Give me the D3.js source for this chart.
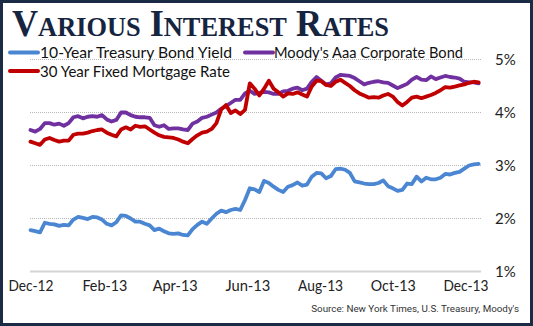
<!DOCTYPE html>
<html>
<head>
<meta charset="utf-8">
<script src="https://cdn.jsdelivr.net/npm/d3@7"></script>
<style>
  html, body { margin: 0; padding: 0; background: #fff; }
  svg { display: block; }
</style>
</head>
<body>
<svg id="chart" width="533" height="326"></svg>
<script>
// Observation dates: every 4 days starting 1 Dec 2012
const startDate = "2012-12-01";
const stepDays = 4;

// 10-Year Treasury Bond Yield (%)
const treasury10y = [
  1.78, 1.76, 1.74, 1.92, 1.90, 1.89, 1.86, 1.88, 1.87, 1.98,
  2.03, 2.01, 1.99, 2.03, 2.02, 1.98, 1.90, 1.87, 1.93, 2.06,
  2.05, 2.00, 1.94, 1.94, 1.90, 1.87, 1.78, 1.81, 1.76, 1.72,
  1.71, 1.72, 1.69, 1.68, 1.80, 1.88, 1.94, 1.90, 2.00, 2.09,
  2.15, 2.12, 2.16, 2.18, 2.16, 2.35, 2.57, 2.55, 2.50, 2.71,
  2.67, 2.60, 2.54, 2.50, 2.60, 2.63, 2.68, 2.62, 2.64, 2.79,
  2.86, 2.85, 2.76, 2.80, 2.93, 2.94, 2.92, 2.86, 2.70, 2.68,
  2.66, 2.65, 2.65, 2.67, 2.72, 2.61, 2.57, 2.52, 2.54, 2.66,
  2.65, 2.79, 2.70, 2.77, 2.74, 2.74, 2.77, 2.84, 2.83, 2.86,
  2.88, 2.94, 3.00, 3.02, 3.03
];

// Moody's Aaa Corporate Bond (%)
const moodysAaa = [
  3.67, 3.64, 3.69, 3.80, 3.80, 3.77, 3.79, 3.75, 3.80, 3.91,
  3.93, 3.89, 3.92, 3.93, 3.92, 3.95, 3.87, 3.83, 3.86, 4.00,
  4.00, 3.95, 3.92, 3.91, 3.91, 3.90, 3.76, 3.73, 3.76, 3.69,
  3.70, 3.70, 3.68, 3.67, 3.79, 3.83, 3.90, 3.92, 3.96, 4.00,
  4.07, 4.12, 4.18, 4.24, 4.24, 4.36, 4.41, 4.35, 4.37, 4.39,
  4.38, 4.35, 4.35, 4.40, 4.41, 4.45, 4.47, 4.42, 4.45, 4.58,
  4.67, 4.60, 4.53, 4.55, 4.66, 4.71, 4.70, 4.69, 4.65, 4.59,
  4.53, 4.56, 4.58, 4.59, 4.57, 4.56, 4.51, 4.46, 4.50, 4.54,
  4.62, 4.67, 4.62, 4.61, 4.68, 4.63, 4.66, 4.69, 4.67, 4.66,
  4.64, 4.58, 4.57, 4.57, 4.55
];

// 30 Year Fixed Mortgage Rate (%)
const mortgage30y = [
  3.45, 3.42, 3.39, 3.49, 3.52, 3.48, 3.45, 3.47, 3.47, 3.58,
  3.60, 3.60, 3.62, 3.65, 3.67, 3.68, 3.62, 3.58, 3.55, 3.68,
  3.72, 3.68, 3.75, 3.73, 3.74, 3.68, 3.62, 3.57, 3.54, 3.53,
  3.52, 3.49, 3.45, 3.42, 3.50, 3.57, 3.62, 3.64, 3.69, 3.80,
  4.06, 4.14, 3.99, 4.04, 3.97, 4.05, 4.55, 4.45, 4.32, 4.45,
  4.60, 4.45, 4.38, 4.30, 4.36, 4.35, 4.38, 4.34, 4.30, 4.49,
  4.60, 4.59, 4.52, 4.50, 4.58, 4.62, 4.56, 4.50, 4.42, 4.36,
  4.32, 4.28, 4.29, 4.28, 4.32, 4.35, 4.30, 4.20, 4.13, 4.20,
  4.28, 4.30, 4.27, 4.30, 4.33, 4.37, 4.42, 4.48, 4.47, 4.49,
  4.51, 4.53, 4.56, 4.58, 4.57
];

// Axis ticks
const xTickDates = ["2012-12-01", "2013-02-01", "2013-04-01", "2013-06-01", "2013-08-01", "2013-10-01", "2013-12-01"];
const xTickLabels = ["Dec-12", "Feb-13", "Apr-13", "Jun-13", "Aug-13", "Oct-13", "Dec-13"];
const yTicks = [1, 2, 3, 4, 5];
const yTickLabels = ["1%", "2%", "3%", "4%", "5%"];

const seriesNames = ["10-Year Treasury Bond Yield", "Moody's Aaa Corporate Bond", "30 Year Fixed Mortgage Rate"];
const seriesColors = ["#4a86d2", "#7030a0", "#c00000"];

const parse = d3.utcParse("%Y-%m-%d");
const start = parse(startDate);
const dates = treasury10y.map((_, i) => d3.utcDay.offset(start, i * stepDays));

const svg = d3.select("#chart");
const W = 533, H = 326;

// Frame
svg.append("rect").attr("x", 0).attr("y", 0).attr("width", W).attr("height", H).attr("fill", "#fff");
svg.append("rect").attr("x", 1.5).attr("y", 1.5).attr("width", W - 3).attr("height", H - 3)
  .attr("fill", "none").attr("stroke", "#1c2b45").attr("stroke-width", 3);

// Scales
const x = d3.scaleUtc().domain([parse("2012-12-01"), parse("2013-12-01")]).range([30.5, 465.5]);
const y = d3.scaleLinear().domain([1, 5]).range([271.5, 59.5]);
const plotLeft = 30, plotRight = 481;

// Gridlines
const grid = svg.append("g");
grid.selectAll("line").data(yTicks).join("line")
  .attr("x1", plotLeft).attr("x2", plotRight)
  .attr("y1", d => y(d)).attr("y2", d => y(d))
  .attr("stroke", d => d === 1 ? "#d4d4d4" : "#b8b8b8")
  .attr("stroke-width", d => d === 1 ? 2 : 1)
  .attr("stroke-dasharray", d => d === 1 ? null : "1,1");

// Y axis labels on the right
const yAxis = d3.axisRight(y).tickValues(yTicks).tickSize(0).tickPadding(0)
  .tickFormat((d, i) => yTickLabels[i]);
const gy = svg.append("g").attr("transform", "translate(495,0)").call(yAxis);
gy.select(".domain").remove();
gy.selectAll("text").attr("font-family", "Lato, 'DejaVu Sans', sans-serif")
  .attr("font-size", 15).attr("fill", "#222").attr("dy", "0.35em");

// X axis labels
const xAxis = d3.axisBottom(x).tickValues(xTickDates.map(parse)).tickSize(0).tickPadding(0)
  .tickFormat((d, i) => xTickLabels[i]);
const gx = svg.append("g").attr("transform", "translate(0,280)").call(xAxis);
gx.select(".domain").remove();
gx.selectAll("text").attr("font-family", "Lato, 'DejaVu Sans', sans-serif")
  .attr("font-size", 16).attr("fill", "#222").attr("dy", "0.68em")
  .attr("textLength", 45).attr("lengthAdjust", "spacingAndGlyphs");

// Lines
const seriesValues = [treasury10y, moodysAaa, mortgage30y];
const line = d3.line().x(d => x(d[0])).y(d => y(d[1]));
svg.append("g").selectAll("path").data(seriesValues).join("path")
  .attr("d", vals => line(vals.map((v, i) => [dates[i], v])))
  .attr("fill", "none")
  .attr("stroke", (_, i) => seriesColors[i])
  .attr("stroke-width", 3.8)
  .attr("stroke-linejoin", "round")
  .attr("stroke-linecap", "round");

// Title in small caps
const title = svg.append("text").attr("x", 12).attr("y", 36)
  .attr("font-family", "'Liberation Serif', 'DejaVu Serif', serif")
  .attr("font-weight", "bold").attr("fill", "#15243f")
  .attr("textLength", 377).attr("lengthAdjust", "spacingAndGlyphs");
const titleWords = ["Various", "Interest", "Rates"];
titleWords.forEach((w, i) => {
  title.append("tspan").attr("font-size", 37).text((i > 0 ? " " : "") + w[0].toUpperCase());
  title.append("tspan").attr("font-size", 27).text(w.slice(1).toUpperCase());
});

// Legend
const legendItems = [
  { x: 10, y: 52.5, textX: 40, w: 192 },
  { x: 245, y: 52.5, textX: 274, w: 189 },
  { x: 10, y: 71, textX: 40, w: 190 }
];
const lg = svg.append("g");
legendItems.forEach((it, i) => {
  lg.append("line").attr("x1", it.x).attr("x2", it.x + 28).attr("y1", it.y).attr("y2", it.y)
    .attr("stroke", seriesColors[i]).attr("stroke-width", 4).attr("stroke-linecap", "round");
  lg.append("text").attr("x", it.textX).attr("y", it.y + 5.5)
    .attr("font-family", "Lato, 'DejaVu Sans', sans-serif").attr("font-size", 15)
    .attr("fill", "#111").attr("textLength", it.w).attr("lengthAdjust", "spacingAndGlyphs")
    .text(seriesNames[i]);
});

// Source note
svg.append("text").attr("x", 519).attr("y", 312).attr("text-anchor", "end")
  .attr("font-family", "Roboto, 'DejaVu Sans', sans-serif").attr("font-size", 9.8)
  .attr("fill", "#333")
  .text("Source:  New York Times, U.S. Treasury, Moody's");
</script>
</body>
</html>
